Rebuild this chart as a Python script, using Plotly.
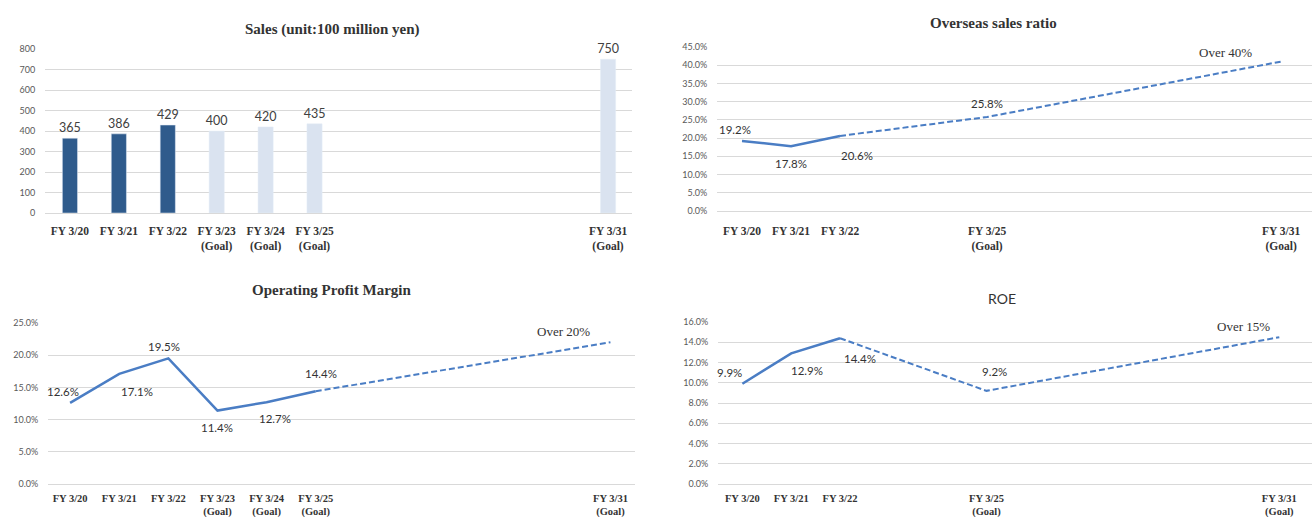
import plotly.graph_objects as go

# ---------------- data ----------------
tick_fy = [20, 21, 22, 23, 24, 25, 31]
tick_text_all = ["FY 3/20", "FY 3/21", "FY 3/22", "FY 3/23<br>(Goal)", "FY 3/24<br>(Goal)",
                 "FY 3/25<br>(Goal)", "FY 3/31<br>(Goal)"]
tick_fy_short = [20, 21, 22, 25, 31]
tick_text_short = ["FY 3/20", "FY 3/21", "FY 3/22", "FY 3/25<br>(Goal)", "FY 3/31<br>(Goal)"]

sales_fy = [20, 21, 22, 23, 24, 25, 31]
sales_val = [365, 386, 429, 400, 420, 435, 750]
sales_goal = [False, False, False, True, True, True, True]

overseas_fy = [20, 21, 22, 25, 31]
overseas_val = [19.2, 17.8, 20.6, 25.8, 41.0]
overseas_lbl = ["19.2%", "17.8%", "20.6%", "25.8%", "Over 40%"]
overseas_split = 2  # last actual point index

opm_fy = [20, 21, 22, 23, 24, 25, 31]
opm_val = [12.6, 17.1, 19.5, 11.4, 12.7, 14.4, 22.0]
opm_lbl = ["12.6%", "17.1%", "19.5%", "11.4%", "12.7%", "14.4%", "Over 20%"]
opm_split = 5

roe_fy = [20, 21, 22, 25, 31]
roe_val = [9.9, 12.9, 14.4, 9.2, 14.5]
roe_lbl = ["9.9%", "12.9%", "14.4%", "9.2%", "Over 15%"]
roe_split = 2

# ---------------- style ----------------
W, H = 1312, 517
DARK = "#2F5B8C"
LIGHT = "#DAE3F0"
LINE = "#4A7DC4"
GRID = "#D9D9D9"
SANS = "Lato, 'Open Sans', sans-serif"
SERIF = "'Liberation Serif', 'Times New Roman', serif"

# label offsets in pixels (dx, dy-up) for each point label
overseas_off = [(-7, 12), (0, -17), (17, -20), (0, 13), (-56, 9)]
opm_off = [(-7, 11), (18, -18), (-4, 12), (0, -17), (8, -16), (5, 18), (-47, 11)]
roe_off = [(-13, 11), (16, -17), (20, -20), (8, 19), (-36, 11)]


def px_x(a, b):
    return [a / W, b / W]


def px_y(top, bottom):
    return [1 - bottom / H, 1 - top / H]


def bold(lst):
    return ["<br>".join("<b>%s</b>" % p for p in s.split("<br>")) for s in lst]


fig = go.Figure()

# ---- Sales bars ----
fig.add_trace(go.Bar(
    x=sales_fy, y=sales_val,
    marker_color=[LIGHT if g else DARK for g in sales_goal],
    width=0.31,
    text=[str(v) for v in sales_val], textposition="outside", constraintext="none",
    textfont=dict(family=SANS, size=12.5, color="#404040"),
    cliponaxis=False, xaxis="x", yaxis="y", showlegend=False,
))


def add_line(fy, vals, labels, split, offs, xa, ya):
    fig.add_trace(go.Scatter(
        x=fy[:split + 1], y=vals[:split + 1], mode="lines",
        line=dict(color=LINE, width=2.5), xaxis=xa, yaxis=ya, showlegend=False))
    fig.add_trace(go.Scatter(
        x=fy[split:], y=vals[split:], mode="lines",
        line=dict(color=LINE, width=2, dash="6px,3px"), xaxis=xa, yaxis=ya, showlegend=False))
    n = len(labels)
    for i, (xv, yv, lb) in enumerate(zip(fy, vals, labels)):
        last = i == n - 1
        dx, dy = offs[i]
        fig.add_annotation(
            x=xv, y=yv, xref=xa, yref=ya, text=lb, showarrow=False,
            xshift=dx, yshift=dy, xanchor="center", yanchor="middle",
            font=dict(family=SERIF if last else SANS, size=13 if last else 11.5,
                      color="#333333"))


add_line(overseas_fy, overseas_val, overseas_lbl, overseas_split, overseas_off, "x2", "y2")
add_line(opm_fy, opm_val, opm_lbl, opm_split, opm_off, "x3", "y3")
add_line(roe_fy, roe_val, roe_lbl, roe_split, roe_off, "x4", "y4")

xcommon = dict(showgrid=False, zeroline=False, showline=False, ticks="outside",
               tickcolor="rgba(0,0,0,0)", automargin=False)
xfont_top = dict(family=SERIF, size=11.5, color="#333333")
xfont_bot = dict(family=SERIF, size=10.5, color="#333333")
ycommon = dict(showgrid=True, gridcolor=GRID, gridwidth=1, zeroline=True, zerolinecolor=GRID,
               zerolinewidth=1, showline=False, ticks="outside", tickcolor="rgba(0,0,0,0)",
               ticklen=7, automargin=False, tickfont=dict(family=SANS, size=9, color="#595959"))

fig.update_layout(
    width=W, height=H, margin=dict(l=0, r=0, t=0, b=0, autoexpand=False),
    paper_bgcolor="white", plot_bgcolor="white", showlegend=False,
    xaxis=dict(xcommon, domain=px_x(45, 632), range=[19.49, 31.49], anchor="y",
               tickvals=tick_fy, ticktext=bold(tick_text_all), ticklen=7, tickfont=xfont_top),
    yaxis=dict(ycommon, domain=px_y(49, 213), range=[0, 800], dtick=100, anchor="x"),
    xaxis2=dict(xcommon, domain=px_x(717, 1312), range=[19.49, 31.63], anchor="y2",
                tickvals=tick_fy_short, ticktext=bold(tick_text_short), ticklen=9,
                tickfont=xfont_top),
    yaxis2=dict(ycommon, domain=px_y(47, 211), range=[0, 45], dtick=5, anchor="x2",
                tickformat=".1f", ticksuffix="%"),
    xaxis3=dict(xcommon, domain=px_x(48, 635), range=[19.55, 31.5], anchor="y3",
                tickvals=tick_fy, ticktext=bold(tick_text_all), ticklen=4, tickfont=xfont_bot),
    yaxis3=dict(ycommon, domain=px_y(323, 484), range=[0, 25], dtick=5, anchor="x3",
                tickformat=".1f", ticksuffix="%"),
    xaxis4=dict(xcommon, domain=px_x(718, 1312), range=[19.5, 31.67], anchor="y4",
                tickvals=tick_fy_short, ticktext=bold(tick_text_short), ticklen=4,
                tickfont=xfont_bot),
    yaxis4=dict(ycommon, domain=px_y(322, 484), range=[0, 16], dtick=2, anchor="x4",
                tickformat=".1f", ticksuffix="%"),
)

titles = [
    ("<b>Sales (unit:100 million yen)</b>", 332, 29, SERIF, 15),
    ("<b>Overseas sales ratio</b>", 994, 23, SERIF, 15),
    ("<b>Operating Profit Margin</b>", 332, 290, SERIF, 15),
    ("ROE", 1002, 298, SANS, 14),
]
for txt, cx, cy, fam, sz in titles:
    fig.add_annotation(text=txt, x=cx / W, y=1 - cy / H, xref="paper", yref="paper",
                       showarrow=False, xanchor="center", yanchor="middle",
                       font=dict(family=fam, size=sz, color="#333333"))

fig.write_html("out.html")
